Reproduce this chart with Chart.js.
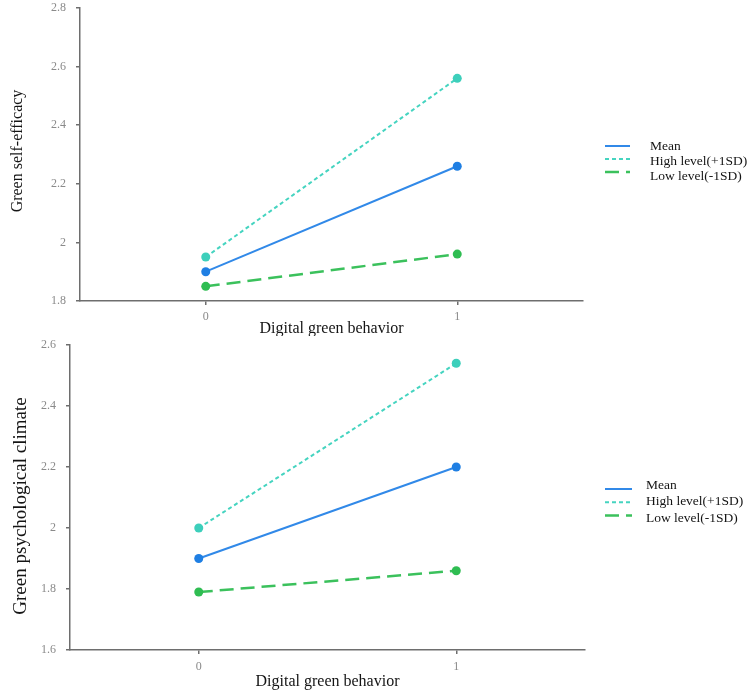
<!DOCTYPE html>
<html>
<head>
<meta charset="utf-8">
<script src="https://cdn.jsdelivr.net/npm/chart.js@4.4.1/dist/chart.umd.min.js"></script>
<style>
  html, body { margin: 0; padding: 0; background: #ffffff; }
  #wrap { position: relative; width: 753px; height: 694px; overflow: hidden; background: #fff; }
  canvas { position: absolute; left: 0; }
  #c1 { top: 0; }
  #c2 { top: 336px; }
</style>
</head>
<body>
<div id="wrap">
  <canvas id="c1" width="753" height="336"></canvas>
  <canvas id="c2" width="753" height="358"></canvas>
</div>
<script>
// ---- data ----
const xValues = [0, 1];
const xTicks = [0, 1];
const seriesLabels = ['Mean', 'High level(+1SD)', 'Low level(-1SD)'];
const topMean = [1.90, 2.26];
const topHigh = [1.95, 2.56];
const topLow  = [1.85, 1.96];
const botMean = [1.90, 2.20];
const botHigh = [2.00, 2.54];
const botLow  = [1.79, 1.86];
const topYTicks = [1.8, 2, 2.2, 2.4, 2.6, 2.8];
const botYTicks = [1.6, 1.8, 2, 2.2, 2.4, 2.6];
const xTitle = 'Digital green behavior';
const topYTitle = 'Green self-efficacy';
const botYTitle = 'Green psychological climate';

// ---- styles ----
const SERIF = "'Liberation Serif', 'Times New Roman', serif";
const styles = [
  { color: '#3189e8', point: '#1f7fe3', dash: [], width: 2 },
  { color: '#45d4c0', point: '#3dcfbb', dash: [4, 3], width: 2 },
  { color: '#3bc15c', point: '#2fbd52', dash: [14, 7], width: 2.5 }
];

function pts(arr) { return xValues.map((x, i) => ({ x: x, y: arr[i] })); }

function makeDatasets(series) {
  return series.map((s, i) => ({
    label: seriesLabels[i],
    data: pts(s),
    borderColor: styles[i].color,
    backgroundColor: styles[i].point,
    pointBackgroundColor: styles[i].point,
    pointBorderWidth: 0,
    pointRadius: 4.5,
    borderWidth: styles[i].width,
    borderDash: styles[i].dash,
    fill: false,
    tension: 0
  }));
}

const sideLegend = {
  id: 'sideLegend',
  afterDraw(chart, args, o) {
    const ctx = chart.ctx;
    ctx.save();
    chart.data.datasets.forEach((ds, i) => {
      const ly = o.lineY0 + i * o.lineDy;
      ctx.beginPath();
      ctx.setLineDash(ds.borderDash || []);
      ctx.strokeStyle = ds.borderColor;
      ctx.lineWidth = ds.borderWidth;
      ctx.moveTo(o.lineX0, ly);
      ctx.lineTo(o.lineX1, ly);
      ctx.stroke();
      ctx.setLineDash([]);
      ctx.fillStyle = '#141414';
      ctx.font = o.font;
      ctx.textAlign = 'left';
      ctx.textBaseline = 'middle';
      ctx.fillText(ds.label, o.textX, o.textY0 + i * o.textDy);
    });
    ctx.restore();
  }
};

const yTitlePlugin = {
  id: 'yTitle',
  afterDraw(chart, args, o) {
    const ctx = chart.ctx;
    ctx.save();
    ctx.translate(o.x, o.y);
    ctx.rotate(-Math.PI / 2);
    ctx.fillStyle = '#141414';
    ctx.font = o.font;
    ctx.textAlign = 'center';
    ctx.textBaseline = 'middle';
    ctx.fillText(o.text, 0, 0);
    ctx.restore();
  }
};

function makeChart(canvasId, series, yTicks, cfg) {
  return new Chart(document.getElementById(canvasId), {
    type: 'line',
    data: { datasets: makeDatasets(series) },
    plugins: [sideLegend, yTitlePlugin],
    options: {
      responsive: false,
      animation: false,
      events: [],
      layout: { padding: { left: 0, right: cfg.padRight, top: cfg.padTop, bottom: 0 } },
      plugins: {
        legend: { display: false },
        tooltip: { enabled: false },
        sideLegend: cfg.legend,
        yTitle: cfg.yTitle
      },
      scales: {
        x: {
          type: 'linear',
          min: -0.5,
          max: 1.5,
          afterBuildTicks: (s) => { s.ticks = xTicks.map(v => ({ value: v })); },
          afterFit: (s) => { s.height = cfg.xHeight; s.paddingLeft = 0; s.paddingRight = 0; },
          ticks: {
            callback: (v) => String(v),
            color: '#8a8a8a',
            font: { family: SERIF, size: 12 },
            padding: cfg.xTickPad,
            maxRotation: 0
          },
          grid: { display: true, drawOnChartArea: false, drawTicks: true, tickLength: 4, color: '#6e6e6e', lineWidth: 1.5 },
          border: { display: true, color: '#6e6e6e', width: 1.5 },
          title: {
            display: true,
            text: xTitle,
            color: '#141414',
            font: { family: SERIF, size: 16, lineHeight: 1.2 },
            padding: { top: 0, bottom: cfg.xTitlePadBottom }
          }
        },
        y: {
          type: 'linear',
          min: yTicks[0],
          max: yTicks[yTicks.length - 1],
          afterBuildTicks: (s) => { s.ticks = yTicks.map(v => ({ value: v })); },
          afterFit: (s) => { s.width = cfg.yWidth; s.paddingTop = 0; s.paddingBottom = 0; },
          ticks: {
            callback: (v) => String(v),
            color: '#8a8a8a',
            font: { family: SERIF, size: 12 },
            padding: 10
          },
          grid: { display: true, drawOnChartArea: false, drawTicks: true, tickLength: 4, color: '#6e6e6e', lineWidth: 1.5 },
          border: { display: true, color: '#6e6e6e', width: 1.5 }
        }
      }
    }
  });
}

makeChart('c1', [topMean, topHigh, topLow], topYTicks, {
  padRight: 170, padTop: 8, xHeight: 35, yWidth: 80, xTickPad: 5, xTitlePadBottom: -2,
  legend: { lineX0: 605, lineX1: 630, lineY0: 146, lineDy: 13, textX: 650, textY0: 146, textDy: 15, font: "13.5px " + SERIF },
  yTitle: { text: topYTitle, x: 18, y: 151, font: "16px " + SERIF }
});

makeChart('c2', [botMean, botHigh, botLow], botYTicks, {
  padRight: 168, padTop: 9, xHeight: 44, yWidth: 70, xTickPad: 6, xTitlePadBottom: 3,
  legend: { lineX0: 605, lineX1: 632, lineY0: 489 - 336, lineDy: 13.3, textX: 646, textY0: 485 - 336, textDy: 16.5, font: "13.5px " + SERIF },
  yTitle: { text: botYTitle, x: 21, y: 506 - 336, font: "19px " + SERIF }
});
</script>
</body>
</html>
